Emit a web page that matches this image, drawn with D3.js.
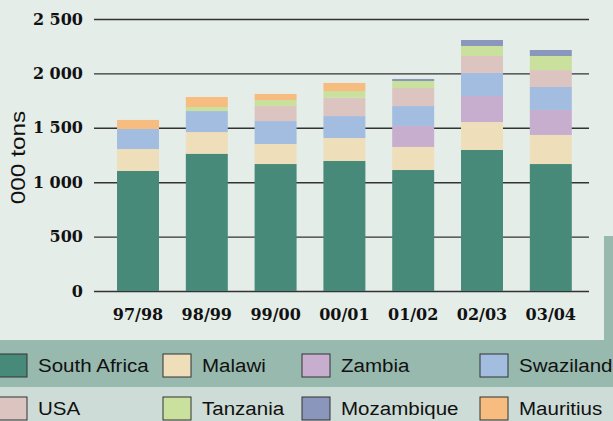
<!DOCTYPE html>
<html>
<head>
<meta charset="utf-8">
<script src="https://cdn.jsdelivr.net/npm/d3@7"></script>
<style>
  html, body { margin: 0; padding: 0; background: #e4ede8; }
  svg { display: block; }
</style>
</head>
<body>
<div id="chart"></div>
<script>
// seasons and production (000 tons) by country
const seasons = ["97/98", "98/99", "99/00", "00/01", "01/02", "02/03", "03/04"];
const countries = ["South Africa", "Malawi", "Zambia", "Swaziland", "USA", "Tanzania", "Mozambique", "Mauritius"];
const southAfrica = [1103, 1262, 1167, 1195, 1112, 1296, 1167];
const malawi      = [202, 199, 184, 211, 212, 257, 267];
const zambia      = [0, 0, 0, 0, 193, 239, 230];
const swaziland   = [184, 193, 211, 202, 183, 212, 211];
const usa         = [0, 0, 138, 169, 166, 156, 156];
const tanzania    = [0, 37, 55, 61, 64, 92, 129];
const mozambique  = [0, 0, 0, 0, 19, 55, 55];
const mauritius   = [83, 92, 56, 74, 0, 0, 0];
const yTicks = [0, 500, 1000, 1500, 2000, 2500];
const colors = ["#478a79", "#eedfba", "#c8aece", "#a3bde1", "#dcc4c1", "#c9e19c", "#8a96bb", "#f6bc80"];

const series = [southAfrica, malawi, zambia, swaziland, usa, tanzania, mozambique, mauritius];
const table = seasons.map((s, i) => {
    const row = { season: s };
    countries.forEach((c, j) => row[c] = series[j][i]);
    return row;
});

const width = 613, height = 421;
const svg = d3.select("#chart").append("svg")
    .attr("width", width)
    .attr("height", height);

// background panels
svg.append("rect").attr("x", 0).attr("y", 0).attr("width", width).attr("height", height).attr("fill", "#e4ede8");
svg.append("rect").attr("x", 604).attr("y", 236).attr("width", 9).attr("height", 104).attr("fill", "#97b9ae");
svg.append("rect").attr("x", 0).attr("y", 340).attr("width", width).attr("height", 47).attr("fill", "#97b9ae");
svg.append("rect").attr("x", 0).attr("y", 387).attr("width", width).attr("height", 34).attr("fill", "#cddcd6");

const x = d3.scaleBand()
    .domain(seasons)
    .range([103.6, 585.2])
    .paddingInner(0.39)
    .paddingOuter(0.195);

const y = d3.scaleLinear()
    .domain([0, 2500])
    .range([291, 19]);

const locale = d3.formatLocale({ decimal: ".", thousands: " ", grouping: [3], currency: ["", ""] });
const fmt = locale.format(",");

const serif = "'DejaVu Serif', serif";
const sans = "'Liberation Sans', Arial, sans-serif";

// y axis with gridlines
const yAxis = svg.append("g")
    .attr("transform", "translate(94,0)")
    .call(d3.axisLeft(y).tickValues(yTicks).tickFormat(fmt).tickSize(-(589 - 94)).tickPadding(11));
yAxis.select(".domain").remove();
yAxis.selectAll(".tick line").attr("stroke", "#333").attr("stroke-width", 1.4);
yAxis.selectAll(".tick text")
    .attr("fill", "#111")
    .style("font-family", serif)
    .style("font-weight", "bold")
    .style("font-size", "16px");

// stacked bars
const stack = d3.stack().keys(countries);
const layers = stack(table);

svg.append("g")
    .selectAll("g")
    .data(layers)
    .join("g")
    .attr("fill", (d, i) => colors[i])
    .selectAll("rect")
    .data(d => d)
    .join("rect")
    .attr("x", d => x(d.data.season))
    .attr("width", x.bandwidth())
    .attr("y", d => y(d[1]))
    .attr("height", d => y(d[0]) - y(d[1]));

// x axis
const xAxis = svg.append("g")
    .attr("transform", "translate(0,291)")
    .call(d3.axisBottom(x).tickSize(0).tickPadding(18));
xAxis.select(".domain").remove();
xAxis.selectAll(".tick text")
    .attr("fill", "#111")
    .style("font-family", serif)
    .style("font-weight", "bold")
    .style("font-size", "16px");

// widen sans text to match the reference face
function stretch(sel, k) {
    sel.each(function() {
        const w = this.getComputedTextLength();
        d3.select(this).attr("textLength", w * k).attr("lengthAdjust", "spacingAndGlyphs");
    });
}

// y title
svg.append("text")
    .attr("transform", "translate(25,157.5) rotate(-90)")
    .attr("text-anchor", "middle")
    .attr("fill", "#111")
    .style("font-family", sans)
    .style("font-size", "21px")
    .text("000 tons")
    .call(stretch, 1.16);

// legend
const legendCols = [-1, 163, 302, 480];
const legendRows = [354, 397];
const legend = svg.append("g")
    .selectAll("g")
    .data(countries)
    .join("g")
    .attr("transform", (d, i) => `translate(${legendCols[i % 4]},${legendRows[Math.floor(i / 4)]})`);

legend.append("rect")
    .attr("width", 28)
    .attr("height", 23)
    .attr("fill", (d, i) => colors[i])
    .attr("stroke", "#333")
    .attr("stroke-width", 1);

legend.append("text")
    .attr("x", 39)
    .attr("y", 18)
    .attr("fill", "#111")
    .style("font-family", sans)
    .style("font-size", "18px")
    .text(d => d)
    .call(stretch, 1.14);
</script>
</body>
</html>
